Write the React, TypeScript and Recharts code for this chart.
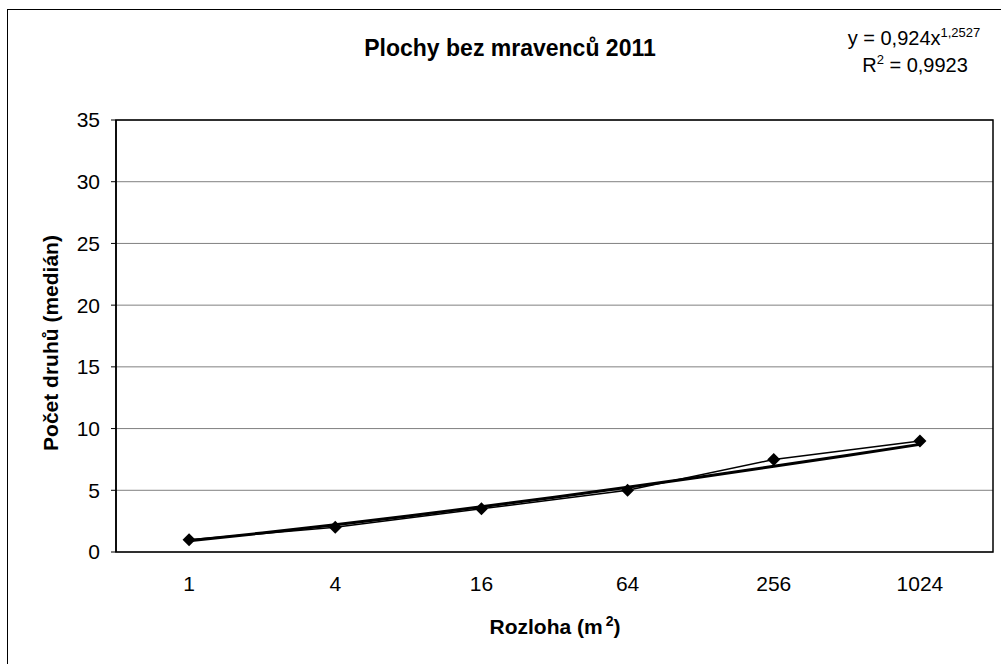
import React from 'react';
import { ComposedChart, Line, XAxis, YAxis, CartesianGrid, ReferenceArea } from 'recharts';

// plochy (m2) a median poctu druhu
const categories = ['1', '4', '16', '64', '256', '1024'];
const catIndex = [1, 2, 3, 4, 5, 6];
const medians = [1, 2, 3.5, 5, 7.5, 9];

// mocninna spojnice trendu
const trendX = [1, 1.5, 2, 2.5, 3, 3.5, 4, 4.5, 5, 5.5, 6];
const trendY = [0.92, 1.54, 2.2, 2.91, 3.66, 4.44, 5.25, 6.08, 6.94, 7.82, 8.72];

const yTicks = [0, 5, 10, 15, 20, 25, 30, 35];
const xBoundaries = [0.5, 1.5, 2.5, 3.5, 4.5, 5.5, 6.5];

const pointData = catIndex.map((x, i) => ({ x, y: medians[i] }));
const trendData = trendX.map((x, i) => ({ x, y: trendY[i] }));

const FONT = '"Liberation Sans", Arial, sans-serif';

const Diamond = (props: any) => {
  const { cx, cy } = props;
  if (cx == null || cy == null) return null;
  const r = 6.5;
  return <path d={`M${cx},${cy - r}L${cx + r},${cy}L${cx},${cy + r}L${cx - r},${cy}Z`} fill="#000" />;
};

const App: React.FC = () => {
  return (
    <div style={{ position: 'absolute', left: 0, top: 0, width: 1001, height: 664, overflow: 'hidden', background: '#fff', fontFamily: FONT }}>
      <div style={{ position: 'absolute', left: 7, top: 9, width: 1020, height: 680, border: '1.5px solid #000' }} />
      <div style={{ position: 'absolute', left: 0, top: 0 }}>
        <ComposedChart width={1001} height={664} margin={{ top: 120, right: 8, bottom: 72, left: 56 }}>
          <CartesianGrid horizontal vertical={false} stroke="#808080" strokeWidth={1} xAxisId="main" />
          <XAxis
            xAxisId="main"
            type="number"
            dataKey="x"
            domain={[0.5, 6.5]}
            ticks={xBoundaries}
            tick={false}
            tickSize={6}
            height={0}
            axisLine={{ stroke: '#000', strokeWidth: 1.5 }}
            tickLine={{ stroke: '#000' }}
            allowDataOverflow
          />
          <XAxis
            xAxisId="lab"
            type="number"
            dataKey="x"
            domain={[0.5, 6.5]}
            ticks={catIndex}
            tickFormatter={(v: number) => categories[v - 1]}
            tickLine={false}
            axisLine={false}
            tickSize={0}
            tickMargin={24}
            height={40}
            interval={0}
            tick={{ fill: '#000', fontSize: 21, fontFamily: FONT }}
            allowDataOverflow
          />
          <YAxis
            type="number"
            domain={[0, 35]}
            ticks={yTicks}
            interval={0}
            width={60}
            tickSize={5}
            tickMargin={11}
            axisLine={{ stroke: '#000', strokeWidth: 1.5 }}
            tickLine={{ stroke: '#000' }}
            tick={{ fill: '#000', fontSize: 21, fontFamily: FONT }}
            allowDataOverflow
          />
          <ReferenceArea xAxisId="main" x1={0.5} x2={6.5} y1={0} y2={35} fill="none" stroke="#000" strokeWidth={1.5} />
          <Line
            xAxisId="main"
            data={trendData}
            dataKey="y"
            type="linear"
            stroke="#000"
            strokeWidth={3}
            dot={false}
            isAnimationActive={false}
          />
          <Line
            xAxisId="main"
            data={pointData}
            dataKey="y"
            type="linear"
            stroke="#000"
            strokeWidth={1.5}
            dot={<Diamond />}
            activeDot={false}
            isAnimationActive={false}
          />
        </ComposedChart>
      </div>
      <svg width={1001} height={664} style={{ position: 'absolute', left: 0, top: 0, pointerEvents: 'none' }} fontFamily={FONT}>
        <text x={510} y={56} textAnchor="middle" fontSize={23} fontWeight="bold" fill="#000">
          Plochy bez mravenců 2011
        </text>
        <text x={914} y={45} textAnchor="middle" fontSize={20} fill="#000">
          y = 0,924x<tspan fontSize={13} dy={-8}>1,2527</tspan>
        </text>
        <text x={915} y={72} textAnchor="middle" fontSize={20} fill="#000">
          R<tspan fontSize={13} dy={-8}>2</tspan><tspan dy={8}> = 0,9923</tspan>
        </text>
        <text x={555} y={634} textAnchor="middle" fontSize={21} fontWeight="bold" fill="#000">
          Rozloha (m<tspan fontSize={14} dy={-8} dx={3}>2</tspan><tspan dy={8}>)</tspan>
        </text>
        <text
          x={0}
          y={0}
          transform="translate(58,343) rotate(-90)"
          textAnchor="middle"
          fontSize={21}
          fontWeight="bold"
          fill="#000"
        >
          Počet druhů (medián)
        </text>
      </svg>
    </div>
  );
};

export default App;
